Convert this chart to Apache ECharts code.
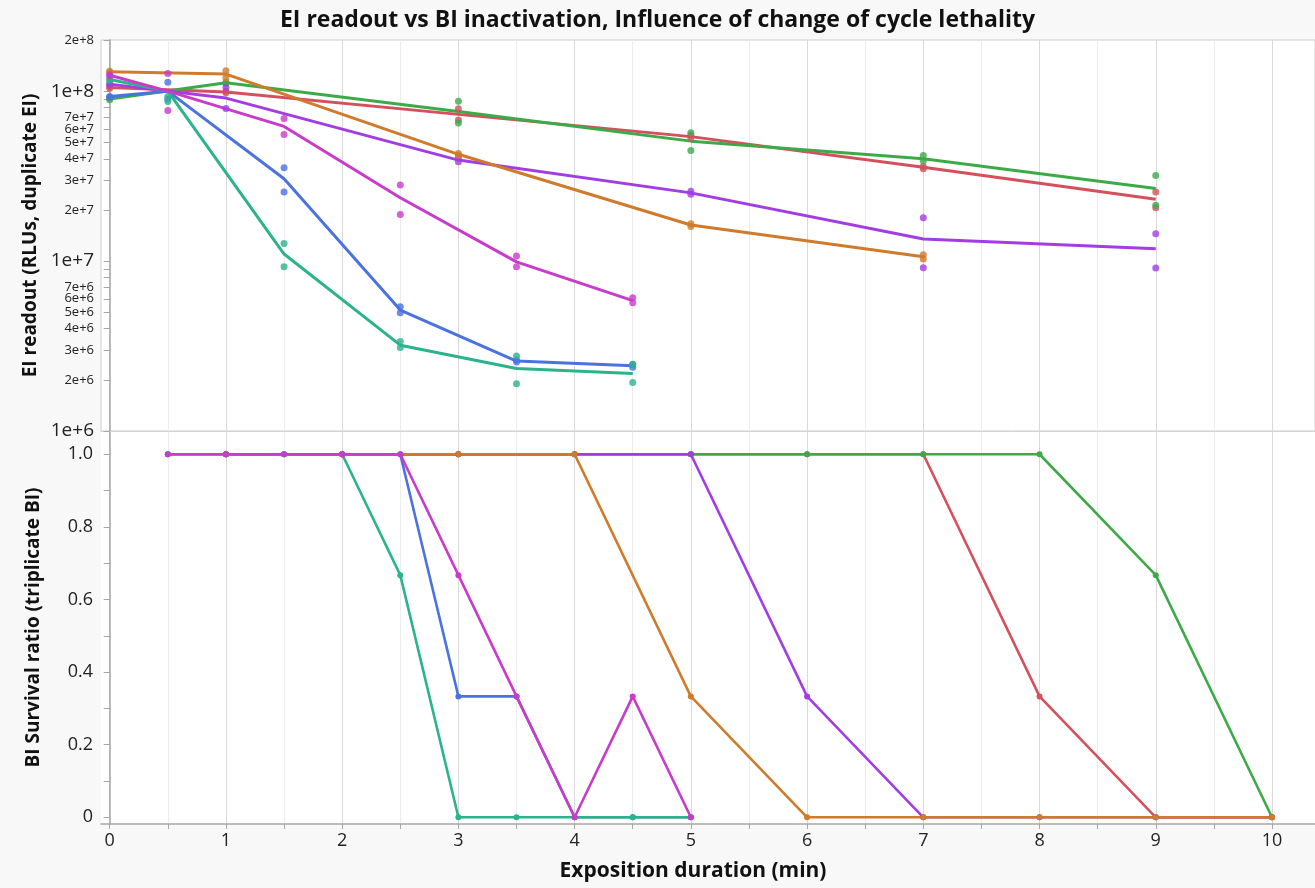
<!DOCTYPE html>
<html>
<head>
<meta charset="utf-8">
<script src="https://cdn.jsdelivr.net/npm/echarts@6/dist/echarts.min.js"></script>
<style>
html,body{margin:0;padding:0;background:#f8f8f8;}
#chart{width:1315px;height:888px;}
</style>
</head>
<body>
<div id="chart"></div>
<script>
// ---------- Data ----------
// Upper panel: EI readout (RLUs), two replicates + mean line
const fastTimesEI = [0, 0.5, 1.5, 2.5, 3.5, 4.5];
const slowTimesEI = [0, 1, 3, 5, 7, 9];
const orangeTimesEI = [0, 1, 3, 5, 7];

const tealMeanEI  = [1.17e8, 1.0e8, 1.10e7, 3.2e6, 2.33e6, 2.18e6];
const tealRep1EI  = [1.18e8, 0.93e8, 1.27e7, 3.36e6, 2.76e6, 2.46e6];
const tealRep2EI  = [1.16e8, 0.87e8, 9.27e6, 3.10e6, 1.90e6, 1.93e6];

const blueMeanEI  = [0.93e8, 1.0e8, 3.05e7, 5.15e6, 2.58e6, 2.42e6];
const blueRep1EI  = [0.93e8, 1.13e8, 3.54e7, 5.39e6, 2.62e6, 2.47e6];
const blueRep2EI  = [0.92e8, 0.90e8, 2.55e7, 4.97e6, 2.55e6, 2.37e6];

const magentaMeanEI = [1.24e8, 1.0e8, 6.2e7, 2.36e7, 0.99e7, 5.85e6];
const magentaRep1EI = [1.25e8, 1.27e8, 6.9e7, 2.8e7, 1.07e7, 6.09e6];
const magentaRep2EI = [1.23e8, 0.77e8, 5.56e7, 1.88e7, 9.27e6, 5.69e6];

const redMeanEI  = [1.05e8, 0.99e8, 7.3e7, 5.4e7, 3.57e7, 2.31e7];
const redRep1EI  = [1.06e8, 1.00e8, 7.88e7, 5.5e7, 3.6e7, 2.55e7];
const redRep2EI  = [1.04e8, 0.98e8, 6.76e7, 5.3e7, 3.5e7, 2.06e7];

const greenMeanEI = [0.90e8, 1.12e8, 7.6e7, 5.08e7, 4.0e7, 2.67e7];
const greenRep1EI = [0.91e8, 1.13e8, 8.73e7, 5.69e7, 4.18e7, 3.19e7];
const greenRep2EI = [0.89e8, 1.11e8, 6.5e7, 4.48e7, 3.88e7, 2.13e7];

const purpleMeanEI = [1.10e8, 0.91e8, 3.93e7, 2.52e7, 1.35e7, 1.18e7];
const purpleRep1EI = [1.11e8, 1.05e8, 4.06e7, 2.58e7, 1.80e7, 1.45e7];
const purpleRep2EI = [1.09e8, 0.79e8, 3.84e7, 2.47e7, 9.15e6, 9.1e6];

const orangeMeanEI = [1.30e8, 1.26e8, 4.25e7, 1.63e7, 1.06e7];
const orangeRep1EI = [1.31e8, 1.32e8, 4.3e7, 1.66e7, 1.09e7];
const orangeRep2EI = [1.29e8, 1.20e8, 4.2e7, 1.60e7, 1.03e7];

// Lower panel: BI survival ratio
const fastTimesBI = [0.5, 1, 1.5, 2, 2.5, 3, 3.5, 4, 4.5, 5];
const slowTimesBI = [1, 2, 3, 4, 5, 6, 7, 8, 9, 10];
const tealBI    = [1, 1, 1, 1, 0.667, 0, 0, 0, 0, 0];
const blueBI    = [1, 1, 1, 1, 1, 0.333, 0.333, 0, 0, 0];
const magentaBI = [1, 1, 1, 1, 1, 0.667, 0.333, 0, 0.333, 0];
const orangeBI  = [1, 1, 1, 1, 0.333, 0, 0, 0, 0, 0];
const purpleBI  = [1, 1, 1, 1, 1, 0.333, 0, 0, 0, 0];
const redBI     = [1, 1, 1, 1, 1, 1, 1, 0.333, 0, 0];
const greenBI   = [1, 1, 1, 1, 1, 1, 1, 1, 0.667, 0];

// Tick values
const xGridValues = [0,0.5,1,1.5,2,2.5,3,3.5,4,4.5,5,5.5,6,6.5,7,7.5,8,8.5,9,9.5,10];
const xLabelValues = [0,1,2,3,4,5,6,7,8,9,10];
const yTickValuesEI = [1e6,2e6,3e6,4e6,5e6,6e6,7e6,8e6,9e6,1e7,2e7,3e7,4e7,5e7,6e7,7e7,8e7,9e7,1e8,2e8];
const yLabelValuesEI = [1e6,2e6,3e6,4e6,5e6,6e6,7e6,1e7,2e7,3e7,4e7,5e7,6e7,7e7,1e8,2e8];
const yTickValuesBI = [0,0.1,0.2,0.3,0.4,0.5,0.6,0.7,0.8,0.9,1.0];
const yLabelValuesBI = [0,0.2,0.4,0.6,0.8,1.0];

// ---------- Styling ----------
const C = {
  red: '#d5505d', green: '#3daa48', purple: '#a23de3', blue: '#4a72e0',
  teal: '#2bb38c', orange: '#cf7b2b', magenta: '#c83bcb'
};
const FONT = 'Open Sans';
const zip = (xs, ys) => xs.map((x, i) => [x, ys[i]]);

function eiSeries(color, times, mean, r1, r2) {
  return [
    { type: 'line', xAxisIndex: 0, yAxisIndex: 0, data: zip(times, mean), showSymbol: false,
      symbol: 'none', lineStyle: { color: color, width: 3 }, itemStyle: { color: color }, z: 3 },
    { type: 'scatter', xAxisIndex: 0, yAxisIndex: 0, data: zip(times, r1).concat(zip(times, r2)),
      symbol: 'circle', symbolSize: 7, itemStyle: { color: color }, z: 4 }
  ];
}
function biSeries(color, times, vals) {
  return { type: 'line', xAxisIndex: 1, yAxisIndex: 1, data: zip(times, vals),
    symbol: 'circle', symbolSize: 6, showSymbol: true,
    lineStyle: { color: color, width: 2.6 }, itemStyle: { color: color } };
}
function eiLabel(v) {
  const e = Math.floor(Math.log10(v) + 1e-9);
  const m = Math.round(v / Math.pow(10, e));
  const txt = m + 'e+' + e;
  return (m === 1) ? '{big|' + txt + '}' : '{small|' + txt + '}';
}

const X_MIN = -0.075, X_MAX = 10.37;

const option = {
  backgroundColor: '#f8f8f8',
  animation: false,
  textStyle: { fontFamily: FONT },
  title: {
    text: 'EI readout vs BI inactivation, Influence of change of cycle lethality',
    left: 'center', top: 4,
    textStyle: { fontSize: 23, fontWeight: 'bold', color: '#111', fontFamily: FONT }
  },
  grid: [
    { left: 101, right: 0, top: 40, height: 391, show: true, backgroundColor: '#ffffff',
      borderColor: '#cfcfcf', borderWidth: 1 },
    { left: 101, right: 0, top: 431, bottom: 64, show: true, backgroundColor: '#ffffff',
      borderWidth: 0 }
  ],
  xAxis: [
    { gridIndex: 0, type: 'value', min: X_MIN, max: X_MAX,
      axisLine: { show: true, onZero: false, lineStyle: { color: '#d4d4d4', width: 1 } },
      axisTick: { show: false, customValues: xGridValues },
      axisLabel: { show: false, customValues: xLabelValues },
      splitLine: { show: true, lineStyle: { color: ['#d9d9d9', '#ededed'], width: 1 } } },
    { gridIndex: 1, type: 'value', min: X_MIN, max: X_MAX,
      axisLine: { show: true, onZero: false, lineStyle: { color: '#a6a6a6', width: 1.5 } },
      axisTick: { show: true, length: 5, customValues: xGridValues, lineStyle: { color: '#a6a6a6' } },
      axisLabel: { show: true, customValues: xLabelValues, fontSize: 18, color: '#222', margin: 8, fontFamily: FONT },
      splitLine: { show: true, lineStyle: { color: ['#d9d9d9', '#ededed'], width: 1 } },
      name: 'Exposition duration (min)', nameLocation: 'middle', nameGap: 37,
      nameTextStyle: { fontSize: 21, fontWeight: 'bold', color: '#111', fontFamily: FONT, padding: [0, 30, 0, 0] } }
  ],
  yAxis: [
    { gridIndex: 0, type: 'log', logBase: 10, min: 1e6, max: 2e8,
      axisLine: { show: true, lineStyle: { color: '#a6a6a6', width: 1.5 } },
      axisTick: { show: true, length: 6, customValues: yTickValuesEI, lineStyle: { color: '#a6a6a6' } },
      axisLabel: { show: true, customValues: yLabelValuesEI, formatter: eiLabel, margin: 7, color: '#222',
        rich: { big: { fontSize: 19, color: '#222', fontFamily: FONT }, small: { fontSize: 13, color: '#222', fontFamily: FONT } } },
      splitLine: { show: false },
      name: 'EI readout (RLUs, duplicate EI)', nameLocation: 'middle', nameGap: 58, nameRotate: 90,
      nameTextStyle: { fontSize: 19, fontWeight: 'bold', color: '#111', fontFamily: FONT } },
    { gridIndex: 1, type: 'value', min: -0.0185, max: 1.064,
      axisLine: { show: true, lineStyle: { color: '#a6a6a6', width: 1.5 } },
      axisTick: { show: true, length: 6, customValues: yTickValuesBI, lineStyle: { color: '#a6a6a6' } },
      axisLabel: { show: true, customValues: yLabelValuesBI, fontSize: 18, color: '#222', margin: 8, fontFamily: FONT,
        formatter: v => (v === 0 ? '0' : v.toFixed(1)) },
      splitLine: { show: false },
      name: 'BI Survival ratio (triplicate BI)', nameLocation: 'middle', nameGap: 58, nameRotate: 90,
      nameTextStyle: { fontSize: 19, fontWeight: 'bold', color: '#111', fontFamily: FONT } }
  ],
  series: [].concat(
    eiSeries(C.red, slowTimesEI, redMeanEI, redRep1EI, redRep2EI),
    eiSeries(C.green, slowTimesEI, greenMeanEI, greenRep1EI, greenRep2EI),
    eiSeries(C.purple, slowTimesEI, purpleMeanEI, purpleRep1EI, purpleRep2EI),
    eiSeries(C.blue, fastTimesEI, blueMeanEI, blueRep1EI, blueRep2EI),
    eiSeries(C.teal, fastTimesEI, tealMeanEI, tealRep1EI, tealRep2EI),
    eiSeries(C.orange, orangeTimesEI, orangeMeanEI, orangeRep1EI, orangeRep2EI),
    eiSeries(C.magenta, fastTimesEI, magentaMeanEI, magentaRep1EI, magentaRep2EI),
    [
      biSeries(C.red, slowTimesBI, redBI),
      biSeries(C.green, slowTimesBI, greenBI),
      biSeries(C.purple, slowTimesBI, purpleBI),
      biSeries(C.blue, fastTimesBI, blueBI),
      biSeries(C.teal, fastTimesBI, tealBI),
      biSeries(C.orange, slowTimesBI, orangeBI),
      biSeries(C.magenta, fastTimesBI, magentaBI)
    ]
  )
};

const chart = echarts.init(document.getElementById('chart'), null, { renderer: 'canvas' });
chart.setOption(option);
</script>
</body>
</html>
